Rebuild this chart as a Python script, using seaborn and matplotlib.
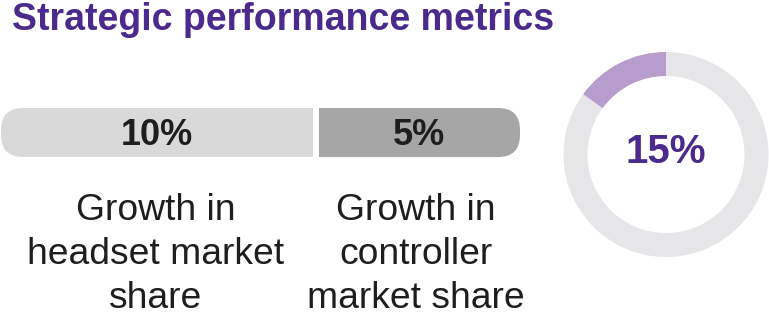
import matplotlib
matplotlib.use("Agg")
import matplotlib.pyplot as plt
from matplotlib.patches import FancyBboxPatch
import seaborn as sns

# ---- data ----
title = "Strategic performance metrics"
bar_values = [10, 5]
bar_labels = ["Growth in\nheadset market\nshare", "Growth in\ncontroller\nmarket share"]
donut_value = 15
donut_total = 100

# ---- style ----
sns.set_theme(style="white")
plt.rcParams['font.family'] = ['Liberation Sans', 'DejaVu Sans']

PURPLE = "#4A2A8C"
LIGHT_PURPLE = "#B69DCC"
RING_GRAY = "#E6E6E9"
SEG_COLORS = ["#D9D9D9", "#A6A6A6"]
TEXT_DARK = "#1E1E1E"

W, H = 769, 322
fig = plt.figure(figsize=(W / 100, H / 100), dpi=100)
fig.patch.set_facecolor("white")

ax = fig.add_axes([0, 0, 1, 1])
ax.set_xlim(0, W)
ax.set_ylim(H, 0)
ax.axis("off")

# title
ax.text(12, 30, title, fontsize=27, fontweight="bold", color=PURPLE,
        ha="left", va="baseline")

# segmented rounded bar (segment widths are layout, labels are the data)
bar_y, bar_h = 132.5, 49
seg_lefts = [1, 319]
seg_widths = [312, 201]
bars = ax.barh([bar_y, bar_y], seg_widths, left=seg_lefts, height=bar_h,
               color=SEG_COLORS, linewidth=0)
clip = FancyBboxPatch((1, bar_y - bar_h / 2), 519, bar_h,
                      boxstyle="round,pad=0,rounding_size=22",
                      transform=ax.transData, facecolor="none", edgecolor="none")
ax.add_patch(clip)
for b in bars:
    b.set_clip_path(clip)

centers = [156, 416]
for b, v, lab, cx in zip(bars, bar_values, bar_labels, centers):
    x = b.get_x() + b.get_width() / 2
    ax.text(x, bar_y + 3, f"{v}%", fontsize=26, fontweight="bold",
            color=TEXT_DARK, ha="center", va="center")
    ax.text(cx, 193, lab, fontsize=26.8, color=TEXT_DARK, ha="center",
            va="top", linespacing=1.33)

# donut
cx_d, cy_d, r_d = 666, 154.5, 102.5
dax = fig.add_axes([(cx_d - r_d) / W, (H - cy_d - r_d) / H, 2 * r_d / W, 2 * r_d / H])
dax.pie([donut_value, donut_total - donut_value], colors=[LIGHT_PURPLE, RING_GRAY],
        startangle=90, counterclock=True, radius=1,
        wedgeprops=dict(width=24 / r_d, linewidth=0))
dax.set_xlim(-1, 1)
dax.set_ylim(-1, 1)
dax.set_aspect("equal")
dax.axis("off")
dax.text(0, 0.02, f"{donut_value}%", fontsize=29, fontweight="bold", color=PURPLE,
         ha="center", va="center")

fig.savefig("out.png", dpi=100, facecolor="white")
